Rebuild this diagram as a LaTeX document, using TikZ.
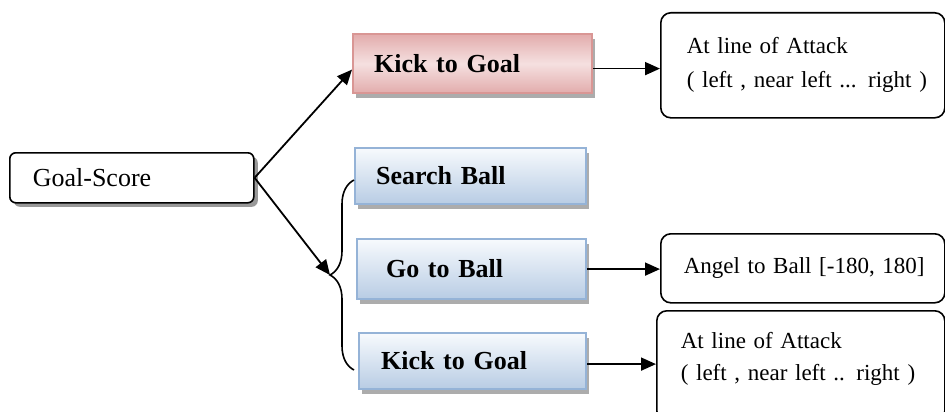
\documentclass[tikz,border=0pt]{standalone}
\usepackage{fontspec}
\setmainfont{Liberation Serif}
\usetikzlibrary{arrows.meta,calc,decorations.pathreplacing,positioning,shadows}
\definecolor{redline}{RGB}{217,150,148}
\definecolor{redtop}{RGB}{226,172,172}
\definecolor{redmid}{RGB}{245,224,224}
\definecolor{bluetop}{RGB}{247,250,253}
\definecolor{bluebot}{RGB}{184,204,228}
\definecolor{blueline}{RGB}{149,179,215}
\tikzset{
rootbox/.style={
  draw,
  line width=1.6pt,
  rounded corners=6pt,
  fill=white,
  anchor=north west,
  align=left,
  font=\fontsize{26}{30}\selectfont,
  drop shadow={shadow xshift=4pt, shadow yshift=-4pt, fill=gray!80, opacity=1},
  }
}
\tikzset{
taskbox/.style={
  draw=blueline,
  line width=2.2pt,
  top color=bluetop,
  bottom color=bluebot,
  anchor=north west,
  align=left,
  font=\fontsize{26}{30}\selectfont\bfseries,
  drop shadow={shadow xshift=3pt, shadow yshift=-5pt, fill=gray!65, opacity=1},
  },
kickbox/.style={
  taskbox,
  draw=redline,
  top color=redtop,
  bottom color=redtop,
  middle color=redmid,
  }
}
\tikzset{
infobox/.style={
  draw,
  line width=1.6pt,
  rounded corners=10pt,
  anchor=north west,
  align=left,
  font=\fontsize{23}{34}\selectfont,
  }
}
\tikzset{
myline/.style={
  line width=1.8pt,
  -{Triangle[length=15pt,width=13pt]}
  },
mybrace/.style={
  line width=1.6pt,
  decorate,
  decoration={brace, amplitude=24pt}
  }
}

\begin{document}
\begin{tikzpicture}[x=1pt,y=-1pt]
    \useasboundingbox (0,0) rectangle (945,412);

    % root
    \node[rootbox, text width=198pt, inner xsep=23pt, minimum height=50pt] (goal_sc) at (9,152) {Goal-Score};

    % first plan
    \node[kickbox, text width=197pt, inner xsep=21pt, minimum height=59pt] (kick_a) at (352,33) {Kick to Goal};
    \node[infobox, text width=232pt, inner xsep=26pt, minimum height=105pt] (att_a) at (660,12) {\mbox{At line of Attack}\\\mbox{( left , near left ... right )}};

    % second plan
    \node[taskbox, text width=189pt, inner xsep=21pt, minimum height=56pt] (search) at (354,147) {Search Ball};
    \node[taskbox, text width=171pt, inner xsep=29pt, minimum height=60pt] (go_ball) at (356,238) {Go to Ball};
    \node[taskbox, text width=183pt, inner xsep=22pt, minimum height=56pt] (kick_b) at (358,332) {Kick to Goal};
    \node[infobox, text width=238pt, inner xsep=23pt, minimum height=69pt] (angle) at (660,233) {\mbox{Angel to Ball [-180, 180]}};
    \node[infobox, text width=240pt, inner xsep=24pt, minimum height=110pt, text height=18pt, text depth=52pt, font=\fontsize{23}{32}\selectfont] (att_b) at (656,310) {\mbox{At line of Attack}\\\mbox{( left , near left .. right )}};

    % brace points
    \coordinate (br_top) at (354,180);
    \coordinate (br_bot) at (354,370);
    \coordinate (br_tip) at (330,275);

    % root edges
    \draw[myline] (goal_sc.east) -- ([yshift=-6pt]kick_a.west);
    \draw[myline] (goal_sc.east) -- (br_tip);

    % brace
    \draw[mybrace] (br_bot) -- (br_top);

    % info edges
    \draw[myline] ([yshift=-5pt]kick_a.east) -- ([yshift=-5pt]kick_a.east -| att_a.west);
    \draw[myline] (go_ball.east) -- (go_ball.east -| angle.west);
    \draw[myline] ([yshift=-3pt]kick_b.east) -- ([yshift=-3pt]kick_b.east -| att_b.west);
\end{tikzpicture}
\end{document}
